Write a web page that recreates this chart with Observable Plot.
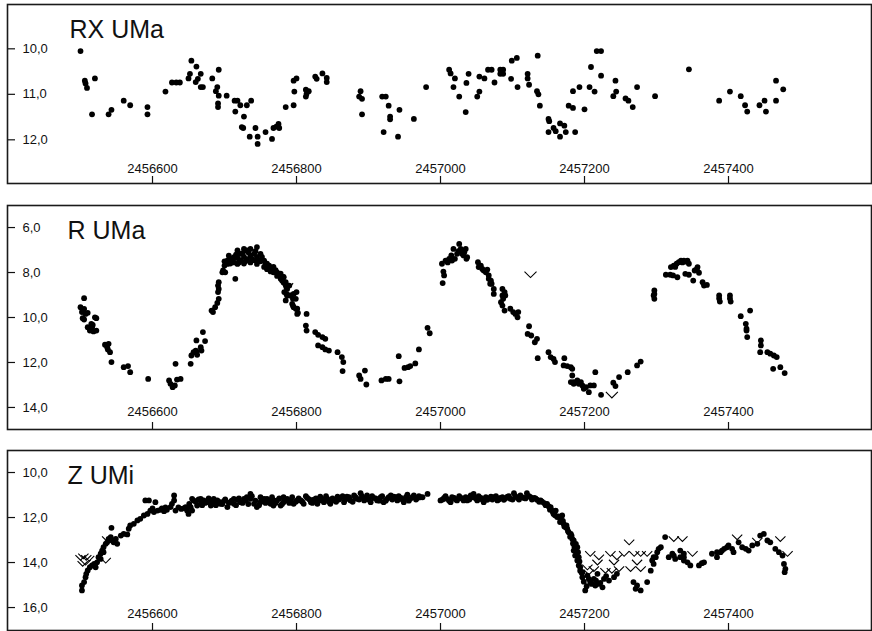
<!DOCTYPE html>
<html><head><meta charset="utf-8">
<script src="https://cdn.jsdelivr.net/npm/d3@7"></script>
<script src="https://cdn.jsdelivr.net/npm/@observablehq/plot@0.6"></script>
<style>body{margin:0;background:#fff;} #chart svg{display:block;}</style>
</head><body><div id="chart"></div>
<script>
const xDomain = [2456398.6, 2457598.6];
const xTicks = [2456600, 2456800, 2457000, 2457200, 2457400];
const titles = ["RX UMa", "R UMa", "Z UMi"];
const rxYTicks = [10, 11, 12];
const rYTicks = [6, 8, 10, 12, 14];
const zYTicks = [10, 12, 14, 16];

const rxDots = [[2456500,10.05],[2456506,10.70],[2456507,10.76],[2456509,10.86],[2456520,10.65],[2456516,11.44],[2456539,11.44],[2456543,11.34],[2456560,11.14],[2456569,11.24],[2456593,11.28],[2456593,11.44],[2456618,10.94],[2456627,10.74],[2456633,10.74],[2456638,10.74],[2456650,10.65],[2456652,10.55],[2456654,10.26],[2456661,10.39],[2456660,10.73],[2456663,10.66],[2456667,10.55],[2456667,10.84],[2456670,10.84],[2456683,10.65],[2456688,10.93],[2456690,10.84],[2456692,10.46],[2456692,11.03],[2456691,11.20],[2456691,11.28],[2456703,11.03],[2456714,11.14],[2456718,11.14],[2456715,11.38],[2456722,11.24],[2456727,11.49],[2456731,11.24],[2456724,11.72],[2456726,11.74],[2456737,11.14],[2456735,11.93],[2456743,11.74],[2456746,11.93],[2456746,12.09],[2456757,11.83],[2456766,11.98],[2456768,11.74],[2456772,11.71],[2456775,11.65],[2456776,11.74],[2456785,11.28],[2456796,11.24],[2456797,10.94],[2456796,10.70],[2456800,10.65],[2456813,10.90],[2456813,11.05],[2456817,10.93],[2456814,10.99],[2456826,10.61],[2456828,10.66],[2456836,10.54],[2456842,10.64],[2456842,10.73],[2456889,10.93],[2456887,11.05],[2456891,11.10],[2456891,11.44],[2456919,11.05],[2456924,11.05],[2456928,11.25],[2456930,11.49],[2456930,11.55],[2456943,11.34],[2456921,11.83],[2456941,11.93],[2456963,11.54],[2456980,10.84],[2457012,10.46],[2457014,10.54],[2457020,10.65],[2457018,10.84],[2457026,11.05],[2457035,11.39],[2457036,10.75],[2457039,10.55],[2457051,11.05],[2457054,10.94],[2457054,10.61],[2457061,10.65],[2457066,10.46],[2457071,10.46],[2457075,10.74],[2457083,10.46],[2457083,10.55],[2457087,10.46],[2457087,10.55],[2457098,10.66],[2457099,10.26],[2457106,10.20],[2457107,10.84],[2457121,10.55],[2457121,10.65],[2457123,10.79],[2457135,10.15],[2457134,10.93],[2457136,11.00],[2457138,11.25],[2457150,11.54],[2457151,11.59],[2457150,11.83],[2457157,11.74],[2457160,11.81],[2457166,11.64],[2457166,11.93],[2457172,11.69],[2457174,11.83],[2457178,11.25],[2457184,11.30],[2457184,10.93],[2457187,11.83],[2457193,10.84],[2457200,11.33],[2457207,10.84],[2457214,10.94],[2457209,10.40],[2457217,10.05],[2457223,10.05],[2457223,10.59],[2457243,10.70],[2457244,10.94],[2457240,11.04],[2457257,11.09],[2457261,11.14],[2457267,11.28],[2457273,10.84],[2457298,11.04],[2457345,10.45],[2457387,11.14],[2457402,10.94],[2457417,11.04],[2457423,11.24],[2457426,11.38],[2457443,11.24],[2457450,11.14],[2457452,11.38],[2457466,10.70],[2457466,11.14],[2457476,10.89]];

const rDots = [[2456505,9.14],[2456500,9.54],[2456503,9.69],[2456505,9.62],[2456502,9.76],[2456503,10.03],[2456505,10.09],[2456507,9.84],[2456510,9.79],[2456510,10.43],[2456513,10.58],[2456516,10.43],[2456518,10.62],[2456522,10.58],[2456520,9.99],[2456522,10.03],[2456515,10.28],[2456517,10.33],[2456534,11.21],[2456537,11.32],[2456539,11.17],[2456541,11.54],[2456543,11.98],[2456538,11.42],[2456560,12.21],[2456566,12.16],[2456569,12.43],[2456594,12.73],[2456623,12.80],[2456625,12.95],[2456628,13.10],[2456631,13.02],[2456632,12.06],[2456634,12.76],[2456639,12.73],[2456653,12.06],[2456654,11.69],[2456657,11.54],[2456661,11.51],[2456662,11.66],[2456660,11.47],[2456661,11.02],[2456667,11.32],[2456668,11.47],[2456673,11.05],[2456670,10.65],[2456682,9.69],[2456684,9.76],[2456687,9.54],[2456690,9.35],[2456692,9.17],[2456692,8.43],[2456691,8.58],[2456692,8.73],[2456691,8.87],[2456698,7.91],[2456697,7.99],[2456701,7.99],[2456700,7.69],
[2456704,7.47],[2456704,7.62],[2456708,7.39],[2456708,7.60],[2456713,7.32],[2456713,7.55],[2456718,7.02],[2456718,7.35],[2456718,7.62],[2456722,7.17],[2456722,7.45],[2456727,6.95],[2456727,7.30],[2456727,7.60],[2456731,7.02],[2456731,7.40],[2456736,6.95],[2456736,7.25],[2456736,7.55],[2456741,7.17],[2456741,7.45],[2456745,6.87],[2456745,7.30],[2456745,7.62],[2456750,7.17],[2456750,7.50],[2456755,7.47],[2456755,7.75],[2456759,7.61],[2456759,7.85],[2456764,7.84],[2456764,7.95],[2456768,7.99],[2456768,7.75],[2456773,7.99],[2456773,8.15],[2456778,8.28],[2456778,8.05],[2456782,8.43],[2456782,8.20],[2456787,8.73],[2456790,8.58],[2456792,9.02],[2456715,8.28],
[2456700,7.50],[2456706,7.25],[2456710,7.50],[2456716,7.20],[2456720,7.55],[2456725,7.15],[2456729,7.50],[2456733,7.10],[2456738,7.40],[2456743,7.05],[2456747,7.45],[2456752,7.30],[2456757,7.60],[2456762,7.70],[2456766,7.85],[2456771,7.90],[2456776,8.10],[2456780,8.35],[2456785,8.55],
[2456783,8.87],[2456786,8.95],[2456790,9.02],[2456795,9.17],[2456796,8.95],[2456800,8.87],[2456794,9.39],[2456796,9.54],[2456801,9.61],[2456802,9.79],[2456782,8.21],[2456785,8.43],[2456786,8.65],[2456785,9.24],[2456787,9.02],[2456799,9.17],[2456795,9.47],[2456799,9.61],[2456801,9.84],[2456814,9.84],[2456813,10.36],[2456814,10.58],[2456826,10.65],[2456830,10.77],[2456836,10.87],[2456840,10.95],[2456830,11.24],[2456836,11.32],[2456840,11.42],[2456845,11.47],[2456857,11.54],[2456863,11.76],[2456865,11.98],[2456864,12.38],[2456887,12.58],[2456889,12.73],[2456895,12.36],[2456897,12.98],[2456918,12.80],[2456924,12.73],[2456928,12.73],[2456943,12.84],[2456942,11.72],[2456950,12.24],[2456955,12.21],[2456958,12.16],[2456965,12.04],[2456970,11.42],[2456982,10.46],[2456985,10.70],
[2457003,8.47],[2457005,8.13],[2457004,7.96],[2457002,7.61],[2457007,7.47],[2457012,7.39],[2457015,7.24],[2457018,6.95],[2457016,7.47],[2457020,7.39],[2457023,7.17],[2457026,6.73],[2457028,6.95],[2457030,7.17],[2457032,7.24],[2457035,6.95],[2457036,7.39],[2457037,7.32],[2457010,7.55],[2457013,7.45],[2457025,7.05],[2457033,7.10],
[2457052,7.54],[2457053,7.76],[2457058,7.84],[2457063,7.99],[2457065,7.87],[2457067,8.13],[2457070,8.36],[2457069,8.50],[2457074,8.73],[2457074,8.95],[2457086,8.73],[2457089,8.87],[2457090,9.02],[2457084,9.32],[2457086,9.47],[2457089,9.69],[2457097,9.61],[2457101,9.76],[2457104,9.84],[2457107,9.99],[2457108,9.76],[2457056,7.69],[2457060,7.91],[2457067,8.28],[2457071,8.50],[2457086,9.02],[2457087,9.17],
[2457123,10.39],[2457121,10.73],[2457126,10.80],[2457131,11.10],[2457134,10.95],[2457135,11.81],[2457150,11.54],[2457153,11.76],[2457157,11.84],[2457159,11.98],[2457172,11.81],[2457171,12.13],[2457176,12.16],[2457183,12.28],[2457181,12.87],[2457185,12.95],[2457190,12.87],
[2457181,12.21],[2457183,12.58],[2457185,12.87],[2457190,12.80],[2457195,12.87],[2457199,13.17],[2457206,13.32],[2457208,13.02],[2457213,13.02],[2457215,12.43],[2457223,13.44],[2457240,12.90],[2457243,13.05],[2457248,12.65],[2457260,12.43],[2457273,12.13],[2457278,11.96],[2457192,12.95],[2457197,13.02],[2457202,13.10],
[2457297,8.80],[2457296,9.02],[2457297,9.17],[2457297,8.95],[2457313,8.10],[2457319,8.10],[2457323,8.13],[2457329,8.21],[2457320,7.76],[2457324,7.69],[2457328,7.61],[2457331,7.54],[2457334,7.47],[2457338,7.47],[2457343,7.47],[2457345,7.61],[2457340,8.06],[2457345,8.10],[2457351,8.36],[2457353,7.91],[2457357,7.76],[2457359,8.01],[2457364,8.43],[2457366,8.58],[2457370,8.55],[2457336,7.55],[2457341,7.52],[2457326,7.75],[2457356,7.85],
[2457387,9.02],[2457388,9.29],[2457402,9.02],[2457403,9.29],[2457387,9.15],[2457402,9.15],[2457417,9.94],[2457430,9.69],[2457424,10.28],[2457425,10.50],[2457425,10.58],[2457426,10.87],[2457445,11.02],[2457445,11.24],[2457444,11.54],[2457454,11.54],[2457458,11.61],[2457463,11.69],[2457467,11.76],[2457462,12.28],[2457472,12.21],[2457478,12.47]];
const rLimits = [[2456787,8.61],[2457125,8.09],[2457238,13.44]];

const zDots = [[2456502,15.24],[2456502,15.02],[2456505,14.87],[2456507,14.65],[2456508,14.50],[2456510,14.35],[2456513,14.21],[2456516,14.13],[2456519,14.06],[2456523,13.99],[2456525,13.76],[2456528,13.61],[2456530,13.47],[2456532,13.32],[2456535,13.17],[2456537,13.10],[2456539,12.95],[2456542,12.87],[2456544,13.02],[2456546,13.10],[2456549,12.95],[2456543,12.46],[2456551,13.17],[2456521,14.21],[2456528,13.84],[2456532,13.54],
[2456556,12.80],[2456560,12.73],[2456565,12.75],[2456567,12.50],[2456569,12.35],[2456574,12.28],[2456579,12.13],[2456583,12.06],[2456588,11.91],[2456593,11.84],[2456597,11.69],[2456602,11.76],[2456607,11.69],[2456611,11.66],[2456616,11.72],[2456620,11.66],[2456625,11.54],[2456627,11.39],[2456630,11.24],[2456632,11.69],[2456590,11.24],[2456595,11.24],[2456604,11.32],[2456630,11.02],[2456646,11.54],[2456648,11.69],[2456650,11.84],[2456653,11.54],[2456655,11.69],[2456655,11.17],
[2456600,11.60],[2456613,11.60],[2456618,11.55],[2456636,11.55],[2456640,11.62],[2456644,11.58],[2456651,11.40],
[2456657,11.24],[2456662,11.47],[2456667,11.39],[2456671,11.24],[2456676,11.32],[2456681,11.47],[2456685,11.39],[2456690,11.24],[2456694,11.39],[2456699,11.27],[2456704,11.54],[2456708,11.32],[2456713,11.39],[2456718,11.21],[2456722,11.32],[2456727,11.17],[2456731,11.10],[2456736,11.17],[2456741,11.39],[2456745,11.54],[2456750,11.32],[2456755,11.17],[2456759,11.17],[2456764,11.39],[2456768,11.24],[2456773,11.24],[2456778,11.47],[2456782,11.32],[2456787,11.17],[2456792,11.24],[2456796,11.39],[2456801,11.24],[2456667,11.17],[2456685,11.17],[2456713,11.17],[2456736,10.95],[2456750,11.10],[2456768,11.47],[2456782,11.10],
[2456660,11.30],[2456664,11.20],[2456669,11.45],[2456673,11.35],[2456678,11.15],[2456683,11.30],[2456688,11.45],[2456692,11.30],[2456697,11.40],[2456701,11.20],[2456706,11.35],[2456710,11.25],[2456716,11.45],[2456720,11.15],[2456725,11.35],[2456729,11.25],[2456733,11.40],[2456738,11.05],[2456743,11.25],[2456748,11.45],[2456752,11.20],[2456757,11.35],[2456762,11.25],[2456766,11.10],[2456771,11.35],[2456776,11.15],[2456780,11.40],[2456785,11.25],[2456790,11.35],[2456794,11.10],[2456799,11.30],[2456803,11.15],[2456808,11.30],[2456813,11.05],[2456818,11.20],[2456822,11.35],[2456827,11.15],[2456831,11.25],[2456836,11.20],[2456841,11.05],[2456845,11.30],[2456850,11.15],[2456855,11.30],[2456859,11.20],[2456864,11.05],[2456868,11.20],[2456873,11.10],[2456878,11.30],[2456882,11.10],[2456887,11.20],[2456891,11.05],[2456896,11.15],[2456900,11.20],[2456905,11.05],[2456910,11.15],[2456915,11.25],[2456919,11.05],[2456924,11.25],[2456928,11.10],[2456933,11.20],[2456938,11.10],[2456942,11.05],[2456947,11.20],[2456952,11.10],[2456956,11.25],[2456961,11.10],[2456966,11.20],[2456970,11.05],[2456975,11.10],
[2456806,11.24],[2456810,11.39],[2456815,11.13],[2456820,11.32],[2456824,11.21],[2456829,11.39],[2456833,11.07],[2456838,11.32],[2456843,11.17],[2456847,11.39],[2456852,11.24],[2456857,11.07],[2456861,11.13],[2456866,11.32],[2456870,11.07],[2456875,11.24],[2456880,11.02],[2456884,11.17],[2456889,10.92],[2456894,11.24],[2456898,11.02],[2456903,11.32],[2456907,11.13],[2456912,11.24],[2456917,11.10],[2456921,11.32],[2456926,11.17],[2456931,11.02],[2456935,11.07],[2456940,11.24],[2456945,11.13],[2456949,11.32],[2456954,10.98],[2456958,11.17],[2456963,11.02],[2456968,11.13],[2456972,11.10],[2456982,10.95],
[2457000,11.24],[2457005,11.13],[2457009,11.17],[2457014,11.32],[2457019,11.13],[2457023,11.24],[2457028,11.13],[2457032,11.24],[2457037,11.24],[2457042,11.02],[2457046,10.95],[2457051,11.24],[2457056,11.13],[2457060,11.32],[2457065,11.21],[2457070,11.07],[2457074,11.10],[2457079,11.24],[2457083,11.13],[2457088,11.21],[2457093,11.07],[2457097,11.17],[2457102,10.92],[2457107,11.13],[2457111,11.02],[2457116,11.13],[2457120,10.92],[2457125,11.10],[2457130,11.13],[2457134,11.21],[2457139,11.24],[2457144,11.36],[2457148,11.39],[2457153,11.54],[2457155,11.69],[2457157,11.84],[2457160,11.69],[2457162,11.98],[2457167,12.06],[2457169,11.91],[2457171,12.28],[2457174,12.43],[2457176,12.50],[2457178,12.65],[2457181,12.73],[2457183,12.95],[2457185,13.02],[2457188,13.17],[2457190,13.32],[2457191,13.54],[2457192,13.76],
[2457003,11.20],[2457007,11.05],[2457012,11.25],[2457016,11.10],[2457021,11.20],[2457026,11.05],[2457030,11.15],[2457035,11.10],[2457040,11.20],[2457044,11.10],[2457049,11.15],[2457053,11.05],[2457058,11.20],[2457063,11.10],[2457067,11.15],[2457072,11.20],[2457077,11.05],[2457081,11.20],[2457086,11.10],[2457090,11.15],[2457095,11.05],[2457100,11.20],[2457104,11.05],[2457109,11.20],[2457113,11.10],[2457118,11.15],[2457123,11.05],[2457127,11.20],[2457132,11.15],[2457137,11.30],[2457141,11.30],[2457146,11.45],[2457150,11.50],[2457152,11.65],[2457156,11.75],[2457159,11.90],[2457164,11.95],[2457166,12.20],[2457170,12.15],[2457172,12.40],[2457175,12.35],[2457177,12.60],[2457180,12.85],[2457182,12.80],[2457184,13.15],[2457186,13.30],[2457189,13.60],[2457193,13.95],[2457196,14.45],[2457199,14.85],[2457203,15.05],[2457210,14.95],[2457216,14.80],[2457222,14.90],[2457230,14.60],
[2457185,13.47],[2457187,13.69],[2457190,13.91],[2457192,14.13],[2457194,14.36],[2457197,14.65],[2457194,14.21],[2457201,15.24],[2457208,14.87],[2457213,14.73],[2457218,14.50],[2457220,14.95],[2457225,15.10],[2457227,14.73],[2457234,14.80],[2457241,14.65],[2457245,14.50],[2457268,14.87],[2457273,15.02],[2457278,15.24],[2457287,14.87],[2457206,14.73],[2457215,15.02],[2457197,14.43],[2457204,14.58],[2457271,15.17],[2457292,14.36],
[2457296,14.06],[2457299,13.76],[2457301,13.54],[2457303,13.39],[2457306,13.32],[2457296,13.76],[2457294,13.91],[2457317,13.76],[2457322,13.61],[2457326,13.84],[2457333,13.76],[2457338,13.61],[2457343,13.99],[2457347,14.13],[2457359,14.13],[2457366,13.99],[2457377,13.61],[2457384,13.54],[2457391,13.47],[2457398,13.32],[2457405,13.39],[2457407,13.54],[2457312,12.87],[2457338,13.91],[2457324,13.69],
[2457333,13.47],[2457338,13.76],[2457363,14.03],[2457384,13.76],[2457389,13.54],[2457394,13.39],[2457400,13.24],[2457414,13.10],[2457419,13.32],[2457424,13.39],[2457428,13.47],[2457433,13.24],[2457440,13.17],[2457444,12.80],[2457449,12.73],[2457454,13.02],[2457458,13.10],[2457465,13.39],[2457470,13.54],[2457475,13.69],[2457477,14.06],[2457479,14.28],[2457478,14.43]];
const zLimits = [[2456500,13.78],[2456504,13.72],[2456508,13.78],[2456512,13.82],[2456503,14.05],[2456507,14.00],[2456535,13.91],[2456537,12.95],
[2457208,13.61],[2457220,13.76],[2457218,13.99],[2457213,14.28],[2457204,14.21],[2457206,14.43],[2457236,13.61],[2457245,13.76],[2457241,13.99],[2457248,14.28],[2457255,13.61],[2457262,13.10],[2457269,13.61],[2457278,13.61],[2457287,13.61],[2457273,13.99],[2457278,14.28],[2457264,14.28],[2457229,14.36],[2457238,14.36],[2457324,12.95],[2457336,12.95],[2457350,13.61],[2457412,12.87],[2457440,13.02],[2457472,12.95],[2457482,13.61]];

const chevron = {
  draw(ctx, size) {
    const s = Math.sqrt(size / Math.PI);
    ctx.moveTo(-1.5 * s, -0.75 * s);
    ctx.lineTo(0, 0.75 * s);
    ctx.lineTo(1.5 * s, -0.75 * s);
  }
};
const fmt = d => d.toFixed(1).replace(".", ",");
const W = 872, ML = 7, MR = 1;

function panel({title, dots, limits, yDomain, yTicks, height, marginTop, marginBottom, labelDy, titleDx, limitR}) {
  const fh = height - marginTop - marginBottom;
  const fw = W - ML - MR;
  const marks = [
    Plot.tickY(yTicks, {y: d => d, insetRight: fw - 8, stroke: "#111", strokeWidth: 1.2}),
    Plot.text(yTicks, {y: d => d, text: fmt, frameAnchor: "left", dx: 15, textAnchor: "start", fontSize: 13, fill: "#111"}),
    Plot.tickX(xTicks, {x: d => d, insetTop: fh - 7, stroke: "#111", strokeWidth: 1.2}),
    Plot.text(xTicks, {x: d => d, text: d => String(d), frameAnchor: "bottom", lineAnchor: "bottom", dy: -labelDy, fontSize: 13, fill: "#111"}),
    Plot.dot(dots, {x: d => d[0], y: d => d[1], r: 2.9, fill: "#000"}),
  ];
  if (limits) marks.push(Plot.dot(limits, {x: d => d[0], y: d => d[1], symbol: chevron, r: limitR, stroke: "#000", fill: "none", strokeWidth: 1.1}));
  marks.push(Plot.text([title], {frameAnchor: "top-left", dx: titleDx, dy: 33, lineAnchor: "bottom", textAnchor: "start", fontSize: 25, fill: "#111"}));
  marks.push(Plot.frame({stroke: "#1a1a1a", strokeWidth: 1.6}));
  return Plot.plot({
    width: W, height, marginLeft: ML, marginRight: MR, marginTop, marginBottom,
    style: {fontFamily: "'Liberation Sans', Arial, sans-serif", background: "#fff"},
    x: {domain: xDomain, axis: null},
    y: {domain: yDomain, reverse: true, axis: null},
    marks
  });
}

const el = document.getElementById("chart");
el.append(panel({title: titles[0], dots: rxDots, yDomain: [9.026, 12.96], yTicks: rxYTicks, height: 188, marginTop: 4, marginBottom: 5, labelDy: 11, titleDx: 62}));
el.append(panel({title: titles[1], dots: rDots, limits: rLimits, limitR: 4, yDomain: [5.02, 14.98], yTicks: rYTicks, height: 244, marginTop: 17, marginBottom: 3, labelDy: 14, titleDx: 60}));
el.append(panel({title: titles[2], dots: zDots, limits: zLimits, limitR: 3.4, yDomain: [9.022, 17.02], yTicks: zYTicks, height: 199, marginTop: 18, marginBottom: 1, labelDy: 13, titleDx: 60}));
</script>
</body></html>
